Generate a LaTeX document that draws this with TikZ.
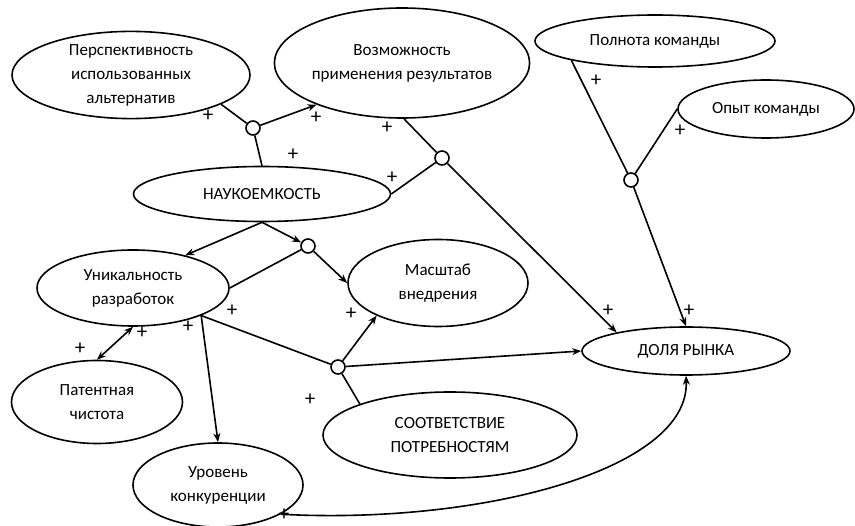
\documentclass[tikz,border=0pt]{standalone}
\usepackage{fontspec}
\setmainfont{Carlito}
\usetikzlibrary{shapes.geometric,arrows.meta}
\tikzset{
	factor/.style={draw,ellipse,line width=1.6pt,inner sep=0,align=center,
		font=\fontsize{17}{24}\selectfont},
	junct/.style={draw,circle,line width=1.6pt,fill=white,inner sep=0,minimum size=14pt},
	link/.style={line width=1.6pt},
	infl/.style={line width=1.6pt,-{Stealth[length=9pt,width=7pt]}},
	sign/.style={inner sep=0,font=\fontsize{21}{21}\selectfont}
}
\begin{document}
\begin{tikzpicture}[x=1pt,y=-1pt]
		\useasboundingbox (0,0) rectangle (855,526);
		% factors
		\node [factor,minimum width=238,minimum height=86] (persp) at (131,75) {Перспективность\\ использованных\\ альтернатив};
		\node [factor,minimum width=240,minimum height=110] (vozm) at (402,63) {Возможность\\ применения результатов};
		\node [factor,minimum width=240,minimum height=52] (poln) at (655,41) {Полнота команды};
		\node [factor,minimum width=176,minimum height=58] (opyt) at (766,109) {Опыт команды};
		\node [factor,minimum width=257,minimum height=55] (nauk) at (262,194) {НАУКОЕМКОСТЬ};
		\node [factor,minimum width=192,minimum height=76] (unik) at (133,288) {Уникальность\\ разработок};
		\node [factor,minimum width=180,minimum height=87] (masst) at (438,283) {Масштаб\\ внедрения};
		\node [factor,minimum width=171,minimum height=83] (patent) at (97,402) {Патентная\\ чистота};
		\node [factor,minimum width=254,minimum height=86] (sootv) at (450,435) {СООТВЕТСТВИЕ\\ ПОТРЕБНОСТЯМ};
		\node [factor,minimum width=170,minimum height=84] (urov) at (218,485) {Уровень\\ конкуренции};
		\node [factor,minimum width=208,minimum height=48] (dolya) at (686,351) {ДОЛЯ РЫНКА};
		% junctions
		\node [junct] (j1) at (253,128) {};
		\node [junct] (j2) at (442,158) {};
		\node [junct] (j3) at (631,180) {};
		\node [junct] (j4) at (308,246) {};
		\node [junct] (j5) at (338,367) {};
		% connectors
		\draw [link] (persp.-18) -- (j1);
		\draw [link] (nauk.north) -- (j1);
		\draw [infl] (j1) -- (vozm.206);
		\draw [link] (vozm.-88) -- (j2);
		\draw [link] (nauk.east) -- (j2);
		\draw [infl] (j2) -- (dolya.165);
		\draw [link] (poln.193) -- (j3);
		\draw [link] (opyt.west) -- (j3);
		\draw [infl] (j3) -- (dolya.north);
		\draw [infl] (nauk.south) -- (unik.32);
		\draw [infl] (nauk.south) -- (j4);
		\draw [link] (unik.east) -- (j4);
		\draw [infl] (j4) -- (masst.west);
		\draw [link] (unik.-22) -- (j5);
		\draw [infl] (unik.-22) -- (urov.north);
		\draw [line width=1.6pt,{Stealth[length=9pt,width=7pt]}-{Stealth[length=9pt,width=7pt]}] (unik.south) -- (patent.north);
		\draw [link] (sootv.161) -- (j5);
		\draw [infl] (j5) -- (masst.208);
		\draw [infl] (j5) -- (dolya.west);
		\draw [infl] (urov.-25) .. controls (480,525) and (690,470) .. (dolya.south);
		% signs
		\foreach \x/\y [count=\i] in {208/116,316/118,293/155,387/128,392/178,596/81,680/131,608/311,689/311,232/311,351/314,188/327,142/333,80/349,310/400,284/515}
			\node [sign] (s\i) at (\x,\y) {+};
\end{tikzpicture}
\end{document}
